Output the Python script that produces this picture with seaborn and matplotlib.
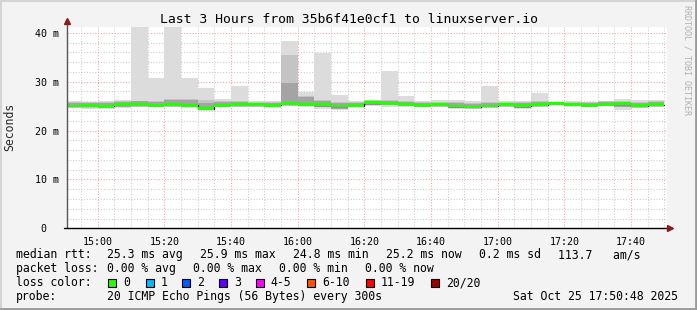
import matplotlib
matplotlib.use('Agg')
import matplotlib.pyplot as plt
import seaborn as sns
import numpy as np
import pandas as pd
from matplotlib.lines import Line2D
from matplotlib.patches import Rectangle
from matplotlib.ticker import FixedLocator

# ---------------- data (ms) ----------------
bin_start = ["14:50", "14:55", "15:00", "15:05", "15:10", "15:15", "15:20", "15:25", "15:30",
             "15:35", "15:40", "15:45", "15:50", "15:55", "16:00", "16:05", "16:10", "16:15",
             "16:20", "16:25", "16:30", "16:35", "16:40", "16:45", "16:50", "16:55", "17:00",
             "17:05", "17:10", "17:15", "17:20", "17:25", "17:30", "17:35", "17:40", "17:45"]
rtt_max = [26.0, 25.9, 26.0, 26.3, 43.0, 30.8, 43.0, 30.8, 28.7, 26.5, 29.2, 26.0,
           26.0, 38.4, 27.8, 35.9, 27.3, 26.1, 26.3, 32.1, 27.1, 26.1, 26.3, 26.3,
           26.0, 29.2, 26.1, 26.0, 27.6, 25.7, 26.1, 25.9, 26.1, 26.5, 26.3, 26.3]
rtt_p90 = [25.9, 25.8, 25.8, 26.0, 26.1, 26.1, 26.4, 26.5, 26.2, 26.0, 26.0, 25.9,
           25.9, 35.4, 27.1, 26.3, 25.8, 25.9, 26.2, 26.2, 26.1, 25.8, 25.9, 25.8,
           25.7, 25.8, 25.9, 25.8, 26.1, 25.7, 25.9, 25.8, 26.0, 26.0, 25.9, 26.1]
rtt_p75 = [25.7, 25.6, 25.6, 25.8, 26.0, 25.9, 26.2, 26.3, 25.6, 25.8, 25.8, 25.7,
           25.7, 29.7, 26.8, 26.0, 25.6, 25.7, 26.0, 26.0, 25.9, 25.6, 25.7, 25.6,
           25.5, 25.6, 25.7, 25.6, 25.9, 25.6, 25.7, 25.6, 25.8, 25.8, 25.7, 25.9]
rtt_median = [25.0, 25.1, 24.95, 25.4, 25.3, 25.2, 25.3, 25.2, 24.5, 25.2, 25.3, 25.3,
              25.2, 25.5, 25.4, 25.3, 25.0, 25.1, 25.7, 25.6, 25.4, 25.2, 25.3, 25.0,
              24.8, 25.0, 25.3, 25.1, 25.3, 25.5, 25.4, 25.2, 25.4, 25.5, 25.1, 25.3]
rtt_p25 = [24.8, 24.8, 24.7, 24.8, 25.1, 25.0, 25.1, 24.9, 24.3, 25.0, 25.0, 25.0,
           24.9, 25.2, 25.1, 24.8, 24.5, 24.9, 25.3, 25.2, 25.1, 25.0, 25.0, 24.7,
           24.6, 24.8, 25.0, 24.7, 25.0, 25.3, 25.1, 24.9, 25.1, 24.8, 24.8, 25.0]
rtt_min = [24.6, 24.5, 24.4, 24.6, 24.9, 24.8, 24.9, 24.7, 24.2, 24.8, 24.8, 24.9,
           24.7, 25.0, 24.9, 24.4, 24.3, 24.8, 25.1, 24.9, 24.9, 24.8, 24.8, 24.5,
           24.4, 24.6, 24.8, 24.5, 24.8, 25.2, 24.9, 24.8, 25.0, 24.3, 24.6, 24.8]

x_tick_labels = ["15:00", "15:20", "15:40", "16:00", "16:20", "16:40", "17:00", "17:20", "17:40"]
y_ticks = [0, 10, 20, 30, 40]
y_tick_labels = ["0  ", "10 m", "20 m", "30 m", "40 m"]

loss_labels = ["0", "1", "2", "3", "4-5", "6-10", "11-19", "20/20"]
loss_colors = ["#22ff00", "#00b8ff", "#0059ff", "#5e00ff", "#ff00ff", "#ff5500", "#ff0000", "#a10000"]

title = "Last 3 Hours from 35b6f41e0cf1 to linuxserver.io"

# ---------------- figure ----------------
sns.set_style("white")
plt.rcParams['font.family'] = ['DejaVu Sans Mono']

W, H = 697, 310
def fx(x): return x / W
def fy(y): return 1 - y / H

fig = plt.figure(figsize=(W / 100, H / 100), dpi=100, facecolor='#f3f3f3')
AX_L, AX_R, AX_T, AX_B = 67, 667, 27, 228.3
ax = fig.add_axes([fx(AX_L), fy(AX_B), (AX_R - AX_L) / W, (AX_B - AX_T) / H])
ax.set_facecolor('white')

def to_min(t):
    h, m = t.split(":")
    return int(h) * 60 + int(m) - 14 * 60

mins = np.array([to_min(t) for t in bin_start], dtype=float)
XMIN, XMAX = 50.8, 230.8
ax.set_xlim(XMIN, XMAX)
ax.set_ylim(0, 41.2)

# grid (drawn manually to control colours)
major_x = [to_min(t) for t in x_tick_labels]
minor_x = [m for m in range(55, 231, 5) if m not in major_x]
for m in minor_x:
    ax.axvline(m, color='#cfcfcf', lw=0.8, ls=(0, (1, 1.5)), zorder=0.5)
for v in range(2, 42, 2):
    if v % 10:
        ax.axhline(v, color='#cfcfcf', lw=0.8, ls=(0, (1, 1.5)), zorder=0.5)
for m in major_x:
    ax.axvline(m, color='#f4a8a8', lw=0.8, ls=(0, (1, 1.5)), zorder=0.6)
for v in [10, 20, 30, 40]:
    ax.axhline(v, color='#f4a8a8', lw=0.8, ls=(0, (1, 1.5)), zorder=0.6)

# smoke
rmax = np.array(rtt_max); rmin = np.array(rtt_min)
p90 = np.array(rtt_p90); p75 = np.array(rtt_p75); p25 = np.array(rtt_p25)
med = np.array(rtt_median)
ax.bar(mins, rmax - rmin, bottom=rmin, width=5, align='edge', color='#dcdcdc', lw=0, zorder=1)
ax.bar(mins, p90 - p25, bottom=p25, width=5, align='edge', color='#c4c4c4', lw=0, zorder=1.1)
ax.bar(mins, p75 - p25, bottom=p25, width=5, align='edge', color='#a4a4a4', lw=0, zorder=1.2)

# median step line + loss-coloured band
df = pd.DataFrame({"t": np.append(mins, 230.0), "rtt": np.append(med, med[-1])})
sns.lineplot(data=df, x="t", y="rtt", ax=ax, drawstyle='steps-post', color='black',
             lw=0.9, zorder=2, estimator=None)
ax.bar(mins, 0.55, bottom=med - 0.275, width=5, align='edge', color=loss_colors[0], lw=0, zorder=3)

# ticks
ax.xaxis.set_major_locator(FixedLocator(major_x))
ax.set_xticklabels(x_tick_labels)
ax.xaxis.set_minor_locator(FixedLocator(minor_x))
ax.set_yticks(y_ticks)
ax.set_yticklabels(y_tick_labels)
ax.tick_params(axis='x', which='major', length=2.5, color='#f4a8a8', labelsize=7.2, pad=4,
               direction='out', labelcolor='#000000')
ax.tick_params(axis='x', which='minor', length=2, color='#cfcfcf', direction='out')
ax.tick_params(axis='y', which='major', length=2.5, color='#f4a8a8', labelsize=7.2, pad=3.5,
               direction='out', labelcolor='#000000')
ax.set_xlabel("")
ax.set_ylabel("")
for s in ax.spines.values():
    s.set_visible(False)

# axes lines with arrows
fig.add_artist(Line2D([fx(AX_L), fx(AX_L)], [fy(AX_B), fy(22)], color='#555555', lw=1.0))
fig.add_artist(Line2D([fx(AX_L - 3), fx(669)], [fy(AX_B), fy(AX_B)], color='black', lw=1.0))
fig.add_artist(Line2D([fx(AX_L)], [fy(21)], marker='^', color='#8b1a1a', markersize=4.5, lw=0))
fig.add_artist(Line2D([fx(670)], [fy(AX_B)], marker='>', color='#8b1a1a', markersize=4.5, lw=0))

# title & labels
fig.text(fx(348.5), fy(23), title, ha='center', va='baseline', fontsize=9.45, color='black')
fig.text(fx(10), fy(126.5), "Seconds", rotation=90, ha='center', va='center', fontsize=8.3)
fig.text(fx(687.5), fy(5), "RRDTOOL / TOBI OETIKER", rotation=270, ha='center', va='top',
         fontsize=6, color='#b0b0b0')

# legend lines
fs = 8.3
def t(x, y, s):
    fig.text(fx(x), fy(y), s, ha='left', va='baseline', fontsize=fs, color='black')

t(16, 258.3, "median rtt:")
t(107.3, 258.3, "25.3 ms avg")
t(200, 258.3, "25.9 ms max")
t(293.3, 258.3, "24.8 ms min")
t(386, 258.3, "25.2 ms now")
t(479.3, 258.3, "0.2 ms sd")
t(558.3, 258.3, "113.7   am/s")

t(16, 272.3, "packet loss:")
t(107.3, 272.3, "0.00 % avg")
t(193.3, 272.3, "0.00 % max")
t(279.3, 272.3, "0.00 % min")
t(365, 272.3, "0.00 % now")

t(16, 286.3, "loss color:")
box_x = [108.3, 145.7, 182.3, 219, 255.7, 307.3, 365.7, 430.7]
for bx, lab, col in zip(box_x, loss_labels, loss_colors):
    fig.add_artist(Rectangle((fx(bx), fy(287)), 8 / W, 8 / H, facecolor=col,
                             edgecolor='black', lw=0.8))
    t(bx + 15, 286.3, lab)

t(16, 300, "probe:")
t(107.3, 300, "20 ICMP Echo Pings (56 Bytes) every 300s")
t(513.3, 300, "Sat Oct 25 17:50:48 2025")

# frame
fig.add_artist(Line2D([0, 1], [fy(0.5), fy(0.5)], color='#d4d4d4', lw=1.5))
fig.add_artist(Line2D([fx(0.5), fx(0.5)], [0, 1], color='#d4d4d4', lw=1.5))
fig.add_artist(Line2D([0, 1], [fy(309), fy(309)], color='#9a9a9a', lw=2))
fig.add_artist(Line2D([fx(696), fx(696)], [0, 1], color='#9a9a9a', lw=2))

fig.savefig("out.png", dpi=100, facecolor=fig.get_facecolor())
